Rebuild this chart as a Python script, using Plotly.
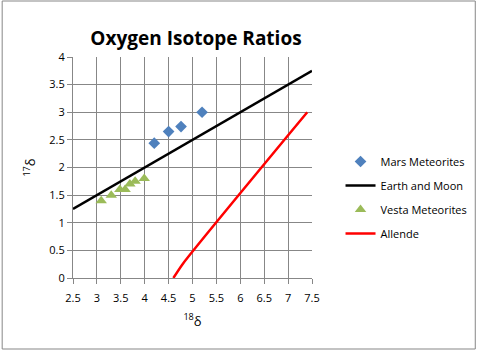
import plotly.graph_objects as go

mars_x = [4.2, 4.5, 4.76, 5.2]
mars_y = [2.44, 2.65, 2.74, 3.0]

earth_x = [2.5, 7.5]
earth_y = [1.25, 3.75]

vesta_x = [3.09, 3.3, 3.48, 3.59, 3.69, 3.8, 3.99]
vesta_y = [1.4, 1.5, 1.6, 1.6, 1.7, 1.75, 1.8]

allende_x = [4.6, 4.8, 7.4]
allende_y = [0.0, 0.26, 3.0]

x_ticks = [2.5, 3, 3.5, 4, 4.5, 5, 5.5, 6, 6.5, 7, 7.5]
y_ticks = [0, 0.5, 1, 1.5, 2, 2.5, 3, 3.5, 4]

font = "Open Sans, Liberation Sans, sans-serif"

fig = go.Figure()
fig.add_trace(go.Scatter(x=mars_x, y=mars_y, mode="markers", name="Mars Meteorites",
                         legendgroup="a",
                         marker=dict(symbol="diamond", size=9, color="#4F81BD")))
fig.add_trace(go.Scatter(x=earth_x, y=earth_y, mode="lines", name="Earth and Moon",
                         legendgroup="b",
                         line=dict(color="black", width=2.5)))
fig.add_trace(go.Scatter(x=vesta_x, y=vesta_y, mode="markers", name="Vesta Meteorites",
                         legendgroup="c",
                         marker=dict(symbol="triangle-up", size=10, color="#9BBB59")))
fig.add_trace(go.Scatter(x=allende_x, y=allende_y, mode="lines", name="Allende",
                         legendgroup="d",
                         line=dict(color="#FF0000", width=2.5, shape="spline", smoothing=0.6)))

pw, ph = 243, 221
L, R, T, B = 73, 168, 57, 73
fig.update_layout(
    width=484, height=351,
    margin=dict(l=L, r=R, t=T, b=B, pad=0),
    paper_bgcolor="white", plot_bgcolor="white",
    font=dict(family=font, size=11, color="black"),
    title=dict(text="<b>Oxygen Isotope Ratios</b>", x=196/484, xanchor="center",
               y=1 - 38/351, yanchor="middle", font=dict(size=19, family=font)),
    xaxis=dict(range=[2.5, 7.5], tickvals=x_ticks, ticktext=[str(v) for v in x_ticks],
               showgrid=True, gridcolor="#878787", gridwidth=1,
               showline=True, linecolor="#878787", linewidth=1,
               ticks="outside", ticklen=5, tickcolor="#878787",
               zeroline=False, tickfont=dict(size=11), ticklabelstandoff=5,
               title=dict(text="<sup>18</sup>δ", font=dict(size=13), standoff=12)),
    yaxis=dict(range=[0, 4], tickvals=y_ticks, ticktext=[str(v) for v in y_ticks],
               showgrid=True, gridcolor="#878787", gridwidth=1,
               showline=True, linecolor="#878787", linewidth=1,
               ticks="outside", ticklen=5, tickcolor="#878787",
               zeroline=False, tickfont=dict(size=11),
               title=dict(text="<sup>17</sup>δ", font=dict(size=13), standoff=10)),
    legend=dict(x=(345 - L) / pw, y=1 - (147 - T) / ph, xanchor="left", yanchor="top",
                font=dict(size=11, family=font), itemwidth=30, tracegroupgap=5,
                bgcolor="rgba(0,0,0,0)"),
    shapes=[dict(type="rect", xref="paper", yref="paper",
                 x0=(-L + 1) / pw, x1=1 + (R - 2) / pw,
                 y0=-(B - 2) / ph, y1=1 + (T - 1) / ph,
                 line=dict(color="#878787", width=1), fillcolor="rgba(0,0,0,0)",
                 layer="below")],
)

fig.write_html("out.html")
